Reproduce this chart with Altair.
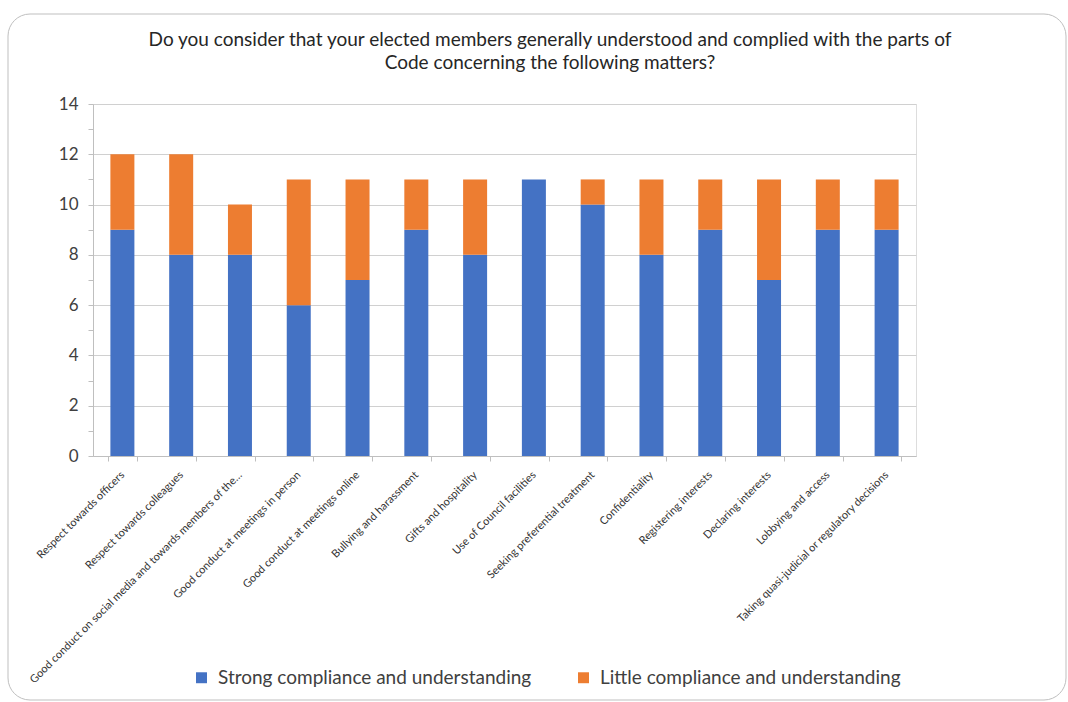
import altair as alt
import pandas as pd

categories = [
    "Respect towards officers",
    "Respect towards colleagues",
    "Good conduct on social media and towards members of the…",
    "Good conduct at meetings in person",
    "Good conduct at meetings online",
    "Bullying and harassment",
    "Gifts and hospitality",
    "Use of Council facilities",
    "Seeking preferential treatment",
    "Confidentiality",
    "Registering interests",
    "Declaring interests",
    "Lobbying and access",
    "Taking quasi-judicial or regulatory decisions",
]
strong = [9, 8, 8, 6, 7, 9, 8, 11, 10, 8, 9, 7, 9, 9]
little = [3, 4, 2, 5, 4, 2, 3, 0, 1, 3, 2, 4, 2, 2]
series = ["Strong compliance and understanding", "Little compliance and understanding"]
colors = ["#4472C4", "#ED7D31"]
y_ticks = list(range(0, 15))
title_lines = [
    "Do you consider that your elected members generally understood and complied with the parts of",
    "Code concerning the following matters?",
]

rows = []
for c, s, l in zip(categories, strong, little):
    rows.append({"cat": c, "series": series[0], "value": s, "ord": 0})
    rows.append({"cat": c, "series": series[1], "value": l, "ord": 1})
df = pd.DataFrame(rows)

FONT = "Lato"

bars = alt.Chart(df).mark_bar(size=24).encode(
    x=alt.X("cat:N", sort=categories, title=None,
            scale=alt.Scale(paddingInner=0.5, paddingOuter=0.25),
            axis=alt.Axis(labelAngle=-45, labelFontSize=11, labelColor="#333333",
                          labelFont=FONT, domainColor="#bfbfbf", tickColor="#bfbfbf",
                          tickBand="extent", tickSize=5, labelPadding=12,
                          labelAlign="right", labelBaseline="middle", labelLimit=400)),
    y=alt.Y("value:Q", stack="zero", title=None,
            scale=alt.Scale(domain=[0, 14], nice=False),
            axis=alt.Axis(values=y_ticks, labelFontSize=17, labelColor="#404040",
                          labelFont=FONT, labelPadding=10,
                          labelExpr="datum.value % 2 == 0 ? datum.label : ''",
                          domainColor="#bfbfbf", tickColor="#bfbfbf", tickSize=5,
                          grid=True,
                          gridColor={"condition": {"test": "datum.value % 2 == 0", "value": "#d0d0d0"},
                                     "value": "transparent"})),
    color=alt.Color("series:N", scale=alt.Scale(domain=series, range=colors),
                    legend=alt.Legend(title=None, orient="none", direction="horizontal",
                                      legendX=99, legendY=564, symbolType="square",
                                      symbolSize=120, symbolStrokeWidth=0,
                                      labelFontSize=19, labelFont=FONT, labelColor="#404040",
                                      columnPadding=42, labelOffset=7, padding=0,
                                      labelLimit=500)),
    order=alt.Order("ord:Q"),
)

border = alt.Chart(alt.Data(values=[{"k": 1}])).mark_rect(
    fill=None, stroke="#bfbfbf", strokeWidth=1, cornerRadius=22, clip=False
).encode(
    x=alt.value(8 - 93), x2=alt.value(1066 - 93),
    y=alt.value(14 - 104), y2=alt.value(700 - 104),
)

title_df = pd.DataFrame({"line": title_lines, "i": [0, 1]})
title = alt.Chart(title_df).mark_text(
    font=FONT, fontSize=19, color="#262626", align="center", baseline="middle", clip=False
).encode(
    text="line:N",
    x=alt.value(550 - 93),
    y=alt.Y("i:Q", axis=None, scale=alt.Scale(domain=[0, 1], range=[40 - 104, 63 - 104])),
)

chart = alt.layer(border, title, bars).resolve_scale(y="independent").properties(
    width=823, height=352,
    padding={"left": 93, "top": 104, "right": 1068 - 916, "bottom": 702 - 456},
    autosize=alt.AutoSizeParams(type="none"),
).configure_view(stroke=None).configure(background="white")

chart.save("out.html", embed_options={"renderer": "svg", "actions": False})
